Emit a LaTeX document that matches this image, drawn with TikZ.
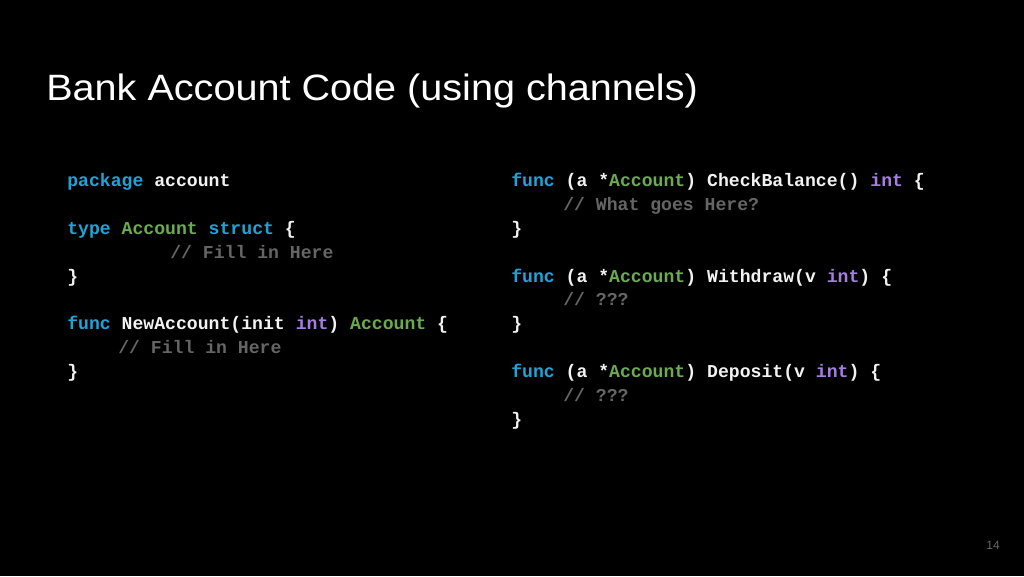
\documentclass[tikz,border=0pt]{standalone}
\usepackage{fontspec}
\setmainfont{Liberation Sans}
\setmonofont{Liberation Mono}
\usepackage{tikz}
\usetikzlibrary{positioning}

\definecolor{kwblue}{HTML}{1FA3D6}
\definecolor{tygreen}{HTML}{6AAB4F}
\definecolor{intpurple}{HTML}{A57FE0}
\definecolor{cmgray}{HTML}{656565}
\definecolor{codewhite}{HTML}{F2F2F2}

\newcommand{\kw}[1]{\textcolor{kwblue}{#1}}
\newcommand{\ty}[1]{\textcolor{tygreen}{#1}}
\newcommand{\ik}[1]{\textcolor{intpurple}{#1}}
\newcommand{\cm}[1]{\textcolor{cmgray}{#1}}

\begin{document}
\begin{tikzpicture}[
    x=0.75pt, y=-0.75pt,
    code/.style={anchor=base west, inner sep=0pt, text=codewhite, font=\ttfamily\bfseries\fontsize{13.6}{16}\selectfont},
    title/.style={anchor=base west, inner sep=0pt, text=white, font=\fontsize{27.5}{32}\selectfont}
]
\fill[black] (0,0) rectangle (1024,576);

% Title
\node[title, xscale=1.08] (title) at (46,100) {Bank Account Code (using channels)};

% Left column
\node[code] (pkg) at (67,186) {\kw{package} account};
\node[code] (typ) at (67,234) {\kw{type} \ty{Account} \kw{struct} \{};
\node[code] (typcm) at (170,258) {\cm{// Fill in Here}};
\node[code] (typend) at (67,282) {\}};
\node[code] (newacc) at (67,329) {\kw{func} NewAccount(init \ik{int}) \ty{Account} \{};
\node[code] (newcm) at (118,353) {\cm{// Fill in Here}};
\node[code] (newend) at (67,377) {\}};

% Right column
\node[code] (check) at (511,186) {\kw{func} (a *\ty{Account}) CheckBalance() \ik{int} \{};
\node[code] (checkcm) at (563,210) {\cm{// What goes Here?}};
\node[code] (checkend) at (511,234) {\}};
\node[code] (withdraw) at (511,282) {\kw{func} (a *\ty{Account}) Withdraw(v \ik{int}) \{};
\node[code] (withcm) at (563,305) {\cm{// ???}};
\node[code] (withend) at (511,329) {\}};
\node[code] (deposit) at (511,377) {\kw{func} (a *\ty{Account}) Deposit(v \ik{int}) \{};
\node[code] (depcm) at (563,401) {\cm{// ???}};
\node[code] (depend) at (511,425) {\}};

% Page number
\node[anchor=base east, inner sep=0pt, text=cmgray, font=\fontsize{9}{11}\selectfont] (page) at (1000,549) {14};
\end{tikzpicture}
\end{document}
